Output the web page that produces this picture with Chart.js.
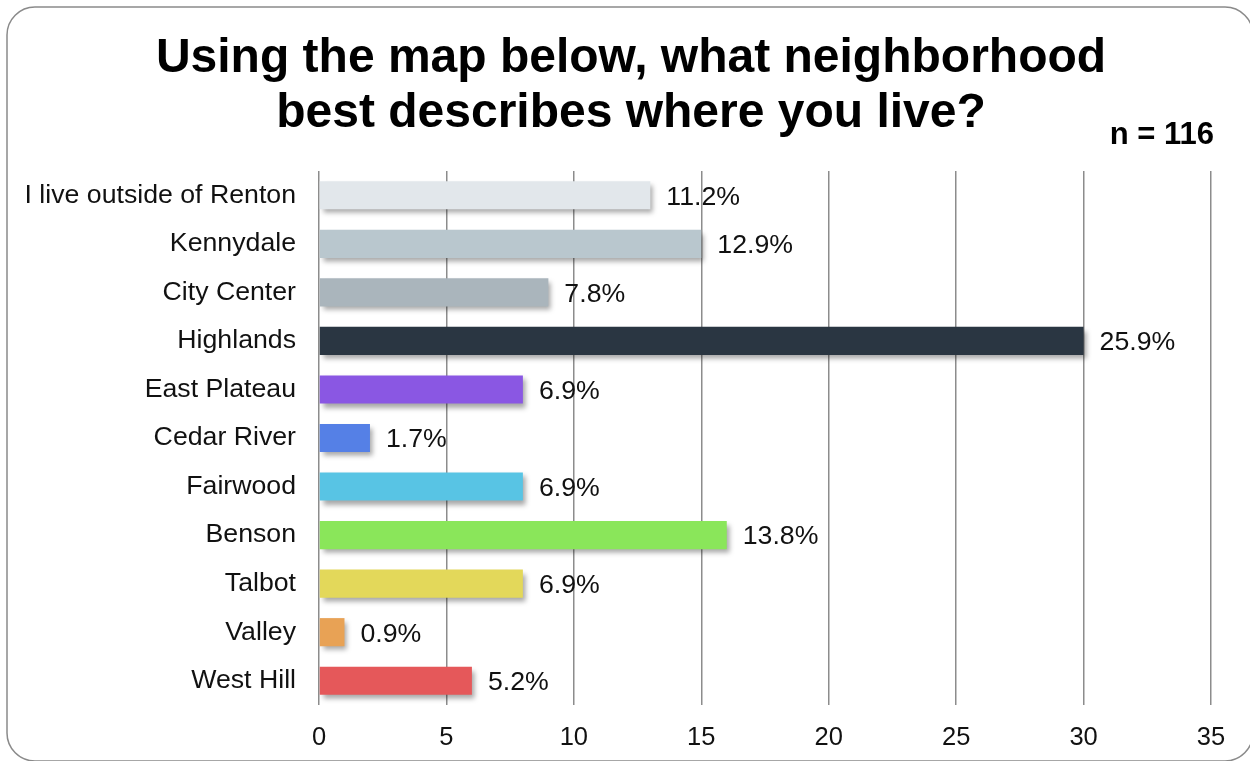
<!DOCTYPE html>
<html>
<head>
<meta charset="utf-8">
<title>Neighborhood</title>
<script src="https://cdn.jsdelivr.net/npm/chart.js@4/dist/chart.umd.min.js"></script>
<style>
  html, body { margin: 0; padding: 0; background: #fff; }
  canvas { display: block; }
</style>
</head>
<body>
<canvas id="chart" width="1250" height="761"></canvas>
<script>
// Réponses au sondage (nombre de répondants par quartier)
const TOTAL = 116;
const neighborhoods = [
    'I live outside of Renton', 'Kennydale', 'City Center', 'Highlands',
    'East Plateau', 'Cedar River', 'Fairwood', 'Benson', 'Talbot', 'Valley', 'West Hill'
];
const counts = [13, 15, 9, 30, 8, 2, 8, 16, 8, 1, 6];
const barColors = [
    '#e2e7eb', '#b9c7ce', '#aab5bc', '#2a3642', '#8a57e3', '#5580e6',
    '#58c4e4', '#8ae65a', '#e3d85a', '#e8a255', '#e5585a'
];
const titleLines = ['Using the map below, what neighborhood', 'best describes where you live?'];
const sampleLabel = 'n = ' + TOTAL;
const xMax = 35;
const xStep = 5;

const FONT = '"Liberation Sans", Arial, sans-serif';

// Cadre arrondi + titre + n
const framePlugin = {
    id: 'frame',
    beforeDraw(chart) {
        const ctx = chart.ctx;
        ctx.save();
        ctx.strokeStyle = '#8a8a8a';
        ctx.lineWidth = 1.5;
        ctx.beginPath();
        ctx.roundRect(7, 7, 1246, 754, 28);
        ctx.stroke();

        ctx.fillStyle = '#000';
        ctx.textAlign = 'center';
        ctx.textBaseline = 'alphabetic';
        ctx.font = 'bold 48px ' + FONT;
        ctx.fillText(titleLines[0], 631, 72);
        ctx.fillText(titleLines[1], 631, 127);

        ctx.textAlign = 'right';
        ctx.font = 'bold 31px ' + FONT;
        ctx.fillText(sampleLabel, 1214, 144);
        ctx.restore();
    }
};

// Ombre portée sous les barres
const shadowPlugin = {
    id: 'barShadow',
    beforeDatasetsDraw(chart) {
        const ctx = chart.ctx;
        ctx.save();
        ctx.shadowColor = 'rgba(0,0,0,0.35)';
        ctx.shadowBlur = 5;
        ctx.shadowOffsetX = 3;
        ctx.shadowOffsetY = 4;
    },
    afterDatasetsDraw(chart) {
        chart.ctx.restore();
    }
};

// Pourcentages au bout des barres
const percentPlugin = {
    id: 'percentLabels',
    afterDraw(chart) {
        const ctx = chart.ctx;
        const meta = chart.getDatasetMeta(0);
        ctx.save();
        ctx.fillStyle = '#111';
        ctx.font = '26.7px ' + FONT;
        ctx.textAlign = 'left';
        ctx.textBaseline = 'middle';
        meta.data.forEach((bar, i) => {
            const pct = (counts[i] / TOTAL * 100).toFixed(1) + '%';
            ctx.fillText(pct, bar.x + 16, bar.y + 2);
        });
        ctx.restore();
    }
};

new Chart(document.getElementById('chart').getContext('2d'), {
    type: 'bar',
    data: {
        labels: neighborhoods,
        datasets: [{
            data: counts,
            backgroundColor: barColors,
            borderWidth: 0,
            categoryPercentage: 1,
            barPercentage: 0.58
        }]
    },
    options: {
        indexAxis: 'y',
        responsive: false,
        animation: false,
        layout: { padding: { top: 171, right: 39, left: 0, bottom: 0 } },
        plugins: {
            legend: { display: false },
            title: { display: false },
            tooltip: { enabled: false }
        },
        scales: {
            x: {
                min: 0,
                max: xMax,
                afterFit(scale) { scale.height = 56; },
                ticks: {
                    stepSize: xStep,
                    padding: 18,
                    color: '#111',
                    font: { family: FONT, size: 25.5 }
                },
                grid: { color: '#8c8c8c', lineWidth: 1.5, drawTicks: false },
                border: { display: false }
            },
            y: {
                afterFit(scale) { scale.width = 319; },
                ticks: {
                    padding: 23,
                    color: '#111',
                    font: { family: FONT, size: 26.7 }
                },
                grid: { display: false, drawTicks: false },
                border: { display: false }
            }
        }
    },
    plugins: [framePlugin, shadowPlugin, percentPlugin]
});
</script>
</body>
</html>
